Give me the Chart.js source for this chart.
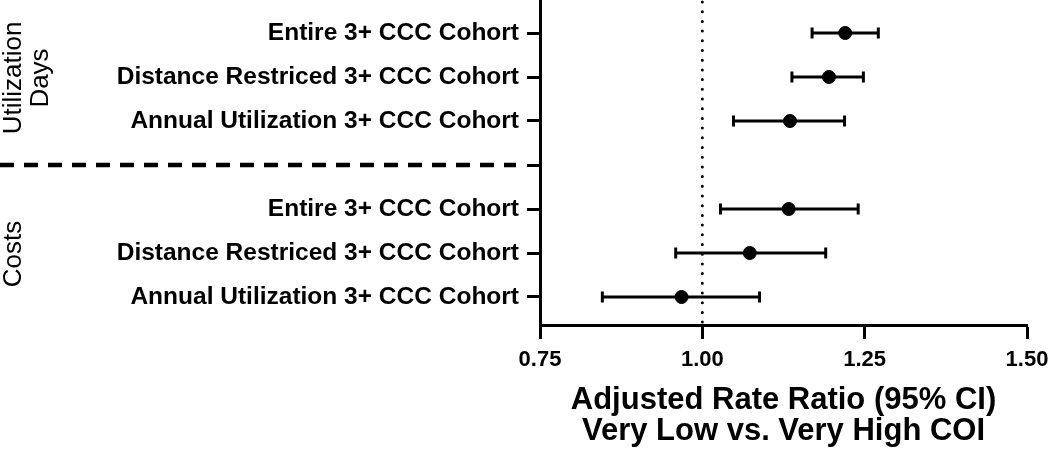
<!DOCTYPE html>
<html lang="en">
<head>
  <meta charset="UTF-8">
  <title>Adjusted Rate Ratio - Forest Plot</title>
  <script src="https://cdn.jsdelivr.net/npm/chart.js"></script>
  <style>
    html, body { margin: 0; padding: 0; background: #fff; }
    .chart-box { width: 1050px; height: 456px; position: relative; }
  </style>
</head>
<body>
<div class="chart-box">
  <canvas id="forestChart"></canvas>
</div>

<script>
  // Rows from top to bottom, the empty one is the dashed separator
  const rowLabels = [
    'Entire 3+ CCC Cohort',
    'Distance Restriced 3+ CCC Cohort',
    'Annual Utilization 3+ CCC Cohort',
    '',
    'Entire 3+ CCC Cohort',
    'Distance Restriced 3+ CCC Cohort',
    'Annual Utilization 3+ CCC Cohort'
  ];
  const rowPositions = [1, 2, 3, 4, 5, 6, 7];

  // Rate ratio and 95% CI
  const estimates = [1.220, 1.195, 1.135, null, 1.133, 1.073, 0.968];
  const lowerCI   = [1.169, 1.138, 1.048, null, 1.028, 0.959, 0.846];
  const upperCI   = [1.271, 1.248, 1.219, null, 1.240, 1.190, 1.088];

  // Group labels on the far left
  const groupLabels = [['Utilization', 'Days'], ['Costs']];
  const groupCenters = [2, 6];
  const separatorRow = 4;

  const xTicks = [0.75, 1.00, 1.25, 1.50];
  const referenceValue = 1.00;
  const axisTitle = ['Adjusted Rate Ratio (95% CI)', 'Very Low vs. Very High COI'];

  Chart.defaults.font.family = "'Liberation Sans', Arial, sans-serif";
  Chart.defaults.color = '#000';

  // Estimate points go first so they are painted on top
  const datasets = [{
    label: 'Estimate',
    data: rowPositions.map((y, i) => ({ x: estimates[i], y: y })).filter(p => p.x !== null),
    pointStyle: 'circle',
    pointRadius: 6.5,
    backgroundColor: '#000',
    borderColor: '#000',
    showLine: false
  }];

  rowPositions.forEach((y, i) => {
    if (lowerCI[i] === null) return;
    datasets.push({
      label: 'CI ' + (i + 1),
      data: [{ x: lowerCI[i], y: y }, { x: upperCI[i], y: y }],
      showLine: true,
      borderColor: '#000',
      borderWidth: 3,
      pointStyle: 'line',
      pointRotation: 90,
      pointRadius: 5.5,
      pointBorderWidth: 3,
      pointBorderColor: '#000'
    });
  });

  // Dotted line at 1.00, dashed separator and rotated group labels
  const decorations = {
    id: 'decorations',
    beforeDatasetsDraw(chart) {
      const ctx = chart.ctx;
      const xs = chart.scales.x;
      const area = chart.chartArea;

      ctx.save();
      ctx.strokeStyle = '#000';
      ctx.lineWidth = 3;
      ctx.lineCap = 'round';
      ctx.setLineDash([0, 9.7]);
      const rx = xs.getPixelForValue(referenceValue);
      ctx.beginPath();
      ctx.moveTo(rx, area.top + 2);
      ctx.lineTo(rx, area.bottom);
      ctx.stroke();
      ctx.restore();
    },
    afterDraw(chart) {
      const ctx = chart.ctx;
      const ys = chart.scales.y;

      ctx.save();
      ctx.strokeStyle = '#000';
      ctx.lineWidth = 4.5;
      ctx.setLineDash([14, 10]);
      const sy = ys.getPixelForValue(separatorRow);
      ctx.beginPath();
      ctx.moveTo(0, sy);
      ctx.lineTo(516, sy);
      ctx.stroke();
      ctx.restore();

      ctx.save();
      ctx.fillStyle = '#000';
      ctx.font = "26px 'Liberation Sans', Arial, sans-serif";
      ctx.textAlign = 'center';
      ctx.textBaseline = 'alphabetic';
      groupLabels.forEach((lines, g) => {
        const cy = ys.getPixelForValue(groupCenters[g]) + 1;
        lines.forEach((line, k) => {
          ctx.save();
          ctx.translate(21 + k * 27, cy);
          ctx.rotate(-Math.PI / 2);
          ctx.fillText(line, 0, 0);
          ctx.restore();
        });
      });
      ctx.restore();
    }
  };

  new Chart(document.getElementById('forestChart'), {
    type: 'scatter',
    data: { datasets: datasets },
    options: {
      responsive: true,
      maintainAspectRatio: false,
      animation: false,
      layout: { autoPadding: false, padding: { top: 0, right: 23, bottom: 0, left: 0 } },
      plugins: {
        legend: { display: false },
        tooltip: { enabled: false }
      },
      scales: {
        x: {
          type: 'linear',
          min: xTicks[0],
          max: xTicks[xTicks.length - 1],
          afterBuildTicks(scale) {
            scale.ticks = xTicks.map(v => ({ value: v }));
          },
          afterFit(scale) {
            scale.height = 131;
            scale.paddingLeft = 0;
            scale.paddingRight = 0;
          },
          ticks: {
            callback: v => Number(v).toFixed(2),
            font: { size: 22, weight: 'bold' },
            color: '#000',
            padding: 8,
            maxRotation: 0
          },
          grid: {
            drawOnChartArea: false,
            drawTicks: true,
            tickLength: 14,
            tickWidth: 3,
            tickColor: '#000'
          },
          border: { display: true, color: '#000', width: 3 },
          title: {
            display: true,
            text: axisTitle,
            font: { size: 31, weight: 'bold', lineHeight: 1.0 },
            color: '#000',
            padding: { top: 0, bottom: 9 }
          }
        },
        y: {
          type: 'linear',
          reverse: true,
          min: 0.25,
          max: 0.25 + 325 / 44,
          afterBuildTicks(scale) {
            scale.ticks = rowPositions.map(v => ({ value: v }));
          },
          afterFit(scale) {
            scale.width = 540;
            scale.paddingTop = 0;
            scale.paddingBottom = 0;
          },
          ticks: {
            callback: v => rowLabels[rowPositions.indexOf(v)] || '',
            font: { size: 24.5, weight: 'bold' },
            color: '#000',
            padding: 8
          },
          grid: {
            drawOnChartArea: false,
            drawTicks: true,
            tickLength: 13,
            tickWidth: 3,
            tickColor: '#000'
          },
          border: { display: true, color: '#000', width: 3 }
        }
      }
    },
    plugins: [decorations]
  });
</script>
</body>
</html>
